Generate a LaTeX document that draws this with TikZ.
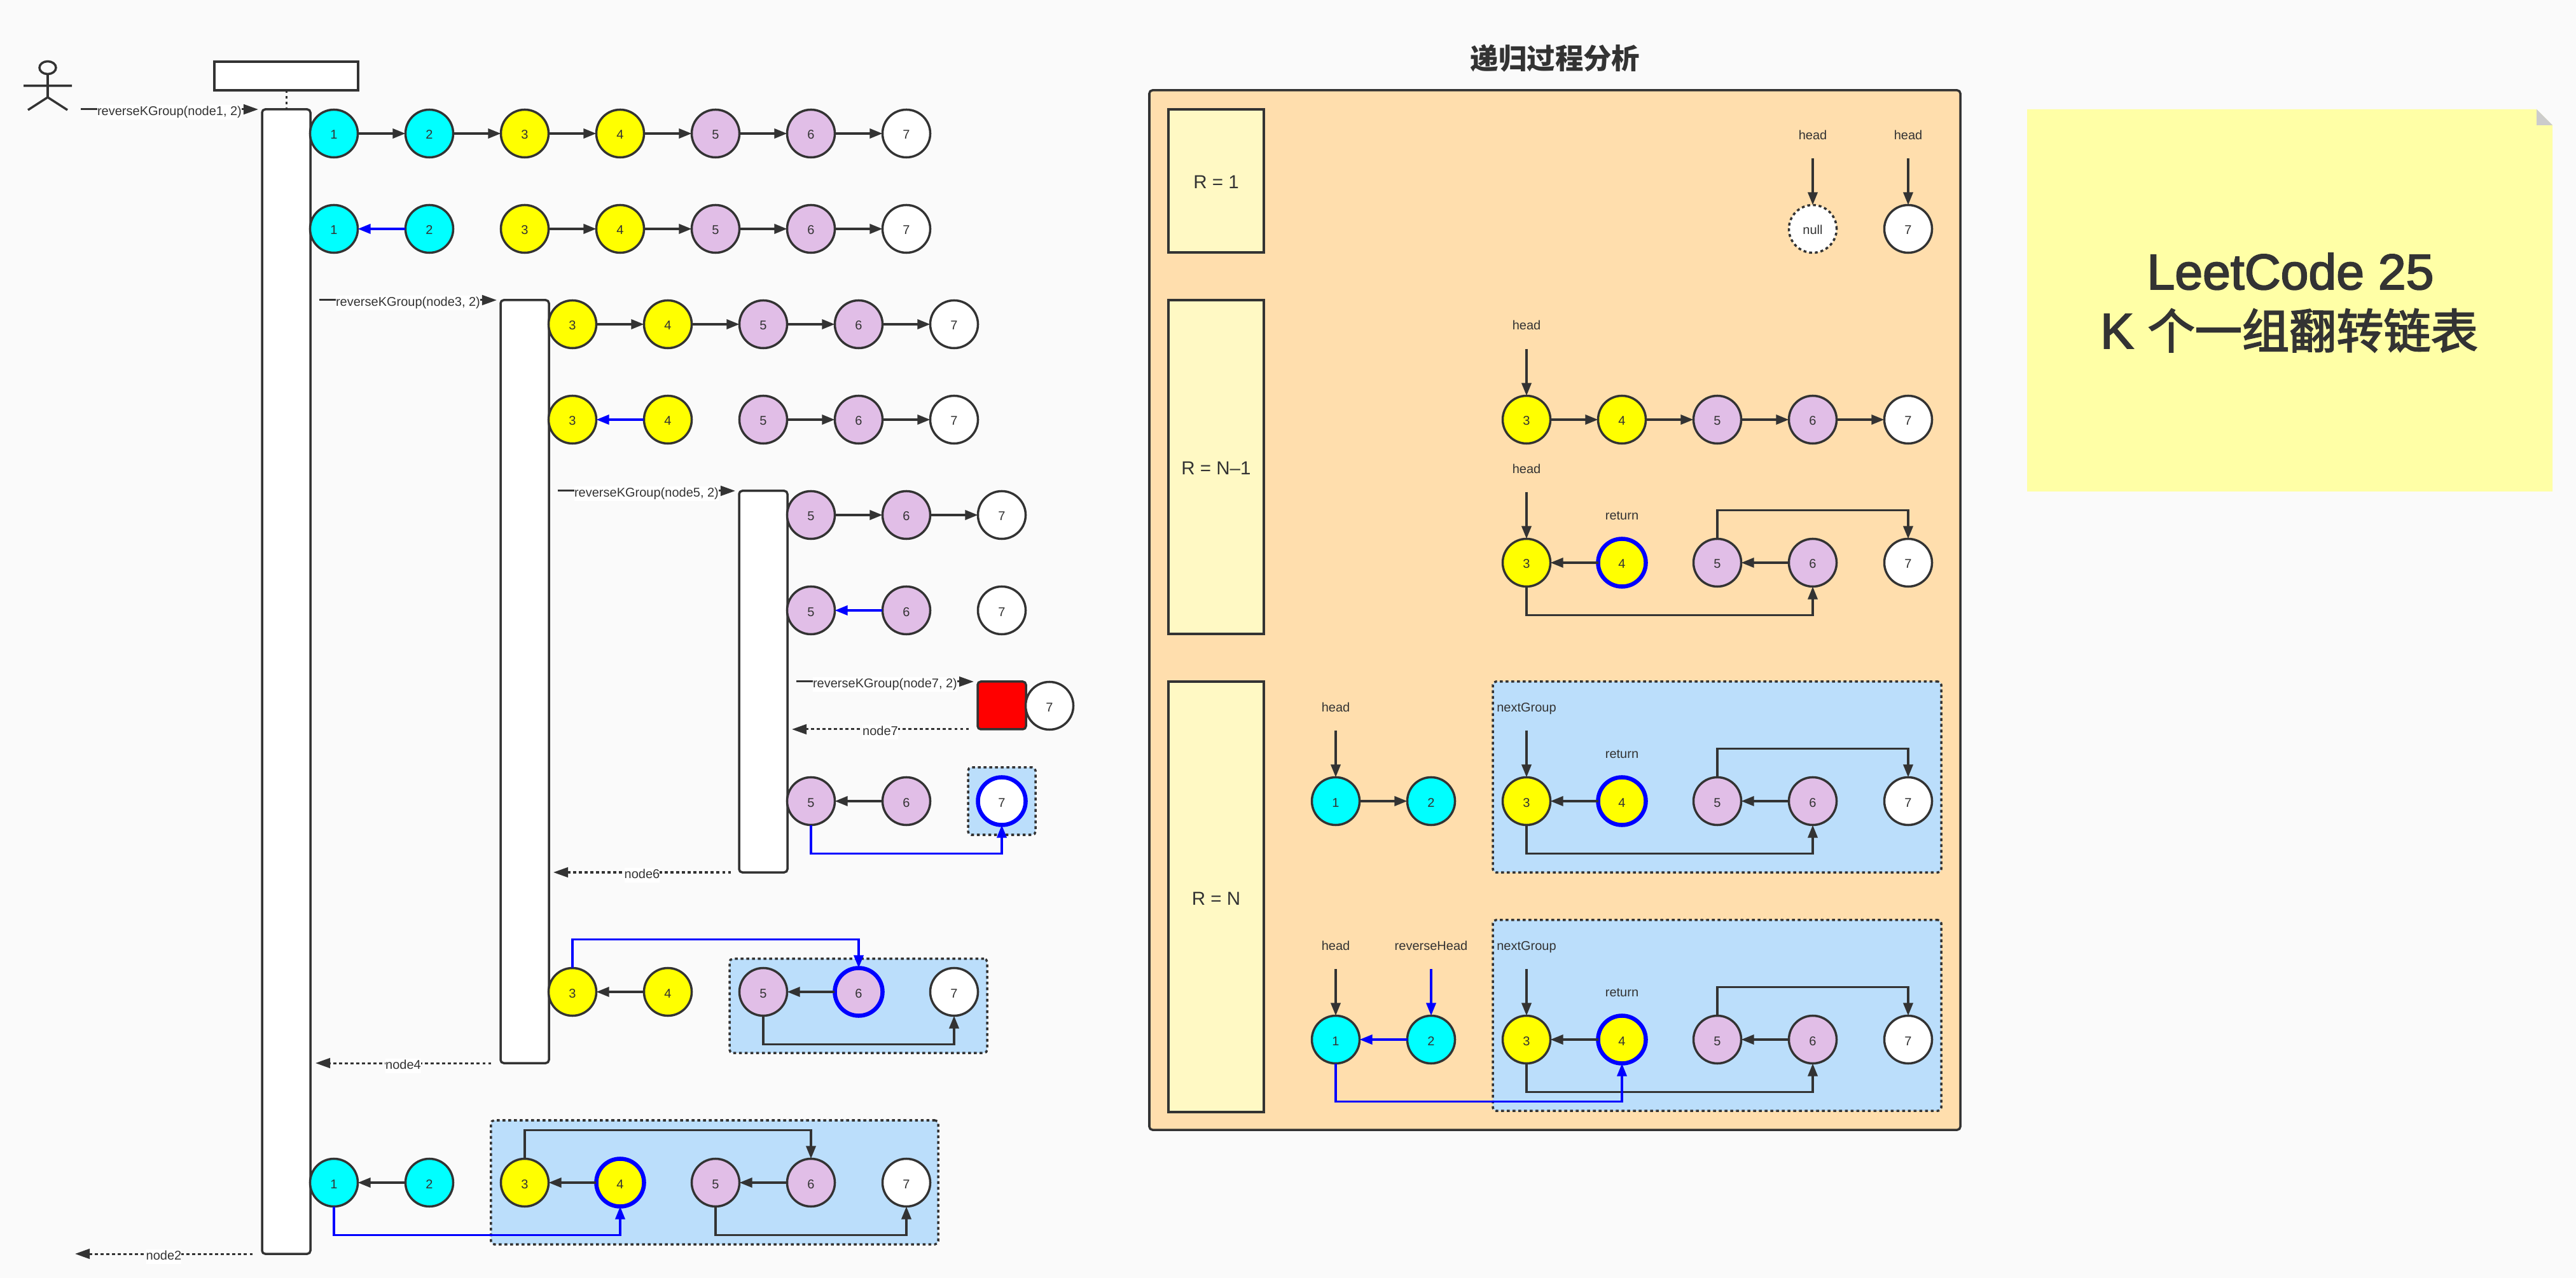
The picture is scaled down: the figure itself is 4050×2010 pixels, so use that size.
\documentclass[tikz,border=0pt]{standalone}
\usepackage{fontspec}
\setmainfont{Liberation Sans}
\newfontfamily\cjk{Noto Sans CJK SC}
\newfontface\notelatin[FakeBold=2.5]{Liberation Sans}
\newfontface\notecjk[FakeBold=2.5]{Noto Sans CJK SC}
\usetikzlibrary{arrows.meta,shapes.geometric}
\definecolor{ink}{HTML}{333333}
\definecolor{pagebg}{HTML}{FAFAFA}
\definecolor{cnA}{HTML}{00FFFF}
\definecolor{cnB}{HTML}{FFFF00}
\definecolor{cnC}{HTML}{E1BEE7}
\definecolor{panelbg}{HTML}{FFDEAD}
\definecolor{groupbg}{HTML}{BBDEFB}
\definecolor{rbg}{HTML}{FFF9C4}
\definecolor{notebg}{HTML}{FFFFA6}
\definecolor{purb}{HTML}{0000FF}
\newcommand{\smallfont}{\fontsize{5.69}{7}\selectfont}
% circle node: [extra]{fill}{name}{x,y}{label}
\newcommand{\Q}[5][]{\node[cn,fill=#2,#1] (#3) at (#4) {#5};}
% box node: {style}{name}{x1}{y1}{x2}{y2}{text}
\newcommand{\Bx}[7]{%
  \pgfmathsetmacro\bw{(#5-#3)*0.01}%
  \pgfmathsetmacro\bh{(#6-#4)*0.01}%
  \pgfmathsetmacro\bx{(#3+#5)/2}%
  \pgfmathsetmacro\by{(#4+#6)/2}%
  \node[#1,minimum width=\bw cm,minimum height=\bh cm] (#2) at (\bx,\by) {#7};}
\tikzset{
  every node/.style={text=ink,font=\smallfont},
  cn/.style={circle,draw=ink,line width=0.035cm,minimum size=0.75cm,inner sep=0pt,outer sep=0pt,text height=0.18cm,text depth=0cm},
  hi/.style={draw=purb,line width=0.065cm},
  nullnode/.style={dash pattern=on 0.045cm off 0.045cm},
  boxbase/.style={rectangle,draw=ink,line width=0.035cm,inner sep=0pt,outer sep=0pt},
  life/.style={boxbase,fill=white,rounded corners=0.05cm},
  group/.style={boxbase,fill=groupbg,rounded corners=0.05cm,dash pattern=on 0.045cm off 0.045cm},
  rbox/.style={boxbase,fill=rbg,font=\fontsize{8.4}{10}\selectfont,text height=0.25cm,text depth=0cm},
  panel/.style={boxbase,fill=panelbg,rounded corners=0.05cm},
  lk/.style={draw=ink,line width=0.035cm,-{Triangle[length=0.2cm,width=0.15cm]}},
  bl/.style={draw=purb,line width=0.035cm,-{Triangle[length=0.2cm,width=0.15cm,fill=purb]}},
  msg/.style={draw=ink,line width=0.03cm,-{Triangle[length=0.23cm,width=0.155cm]}},
  ret/.style={msg,dash pattern=on 0.045cm off 0.045cm},
  msglabel/.style={fill=white,inner xsep=0pt,inner ysep=0pt,text height=0.165cm,text depth=0.06cm,yshift=-0.045cm},
  tag/.style={inner sep=0pt,text height=0.15cm,text depth=0.05cm,yshift=-0.025cm},
  notetext/.style={inner sep=0pt,anchor=base},
}
\begin{document}
\begin{tikzpicture}[x=0.01cm,y=-0.01cm,line join=miter]
\useasboundingbox (0,0) rectangle (4050,2010);
\fill[pagebg] (0,0) rectangle (4050,2010);

% actor
\draw[ink,line width=0.035cm] (75,106.5) ellipse [x radius=13,y radius=10];
\draw[ink,line width=0.035cm] (75,116) -- (75,153) (37,135) -- (113,135) (44,173) -- (75,153) -- (106,173);

% lifelines
\Bx{life,rounded corners=0pt}{top}{337}{97}{563}{142}{}
\Bx{life}{l1}{412}{172}{488}{1972}{}
\Bx{life}{l2}{787}{472}{863}{1672}{}
\Bx{life}{l3}{1162}{772}{1238}{1372}{}
\draw[ink,line width=0.03cm,dash pattern=on 0.045cm off 0.045cm] (top.south) -- (l1.north);

% messages
\coordinate (m1a) at (127,172); \coordinate (m1b) at (406,172);
\draw[msg] (m1a) -- node[msglabel] {reverseKGroup(node1, 2)} (m1b);
\coordinate (m2a) at (502,472); \coordinate (m2b) at (781,472);
\draw[msg] (m2a) -- node[msglabel] {reverseKGroup(node3, 2)} (m2b);
\coordinate (m3a) at (877,772); \coordinate (m3b) at (1156,772);
\draw[msg] (m3a) -- node[msglabel] {reverseKGroup(node5, 2)} (m3b);
\coordinate (m4a) at (1252,1072); \coordinate (m4b) at (1531,1072);
\draw[msg] (m4a) -- node[msglabel] {reverseKGroup(node7, 2)} (m4b);
\coordinate (r7a) at (1523,1147); \coordinate (r7b) at (1245,1147);
\draw[ret] (r7a) -- node[msglabel] {node7} (r7b);
\coordinate (r6a) at (1149,1372); \coordinate (r6b) at (870,1372);
\draw[ret] (r6a) -- node[msglabel] {node6} (r6b);
\coordinate (r4a) at (772,1672); \coordinate (r4b) at (496,1672);
\draw[ret] (r4a) -- node[msglabel] {node4} (r4b);
\coordinate (r2a) at (397,1972); \coordinate (r2b) at (118,1972);
\draw[ret] (r2a) -- node[msglabel] {node2} (r2b);

% row y=210
\Q{cnA}{a1}{525,210}{1}\Q{cnA}{a2}{675,210}{2}\Q{cnB}{a3}{825,210}{3}\Q{cnB}{a4}{975,210}{4}
\Q{cnC}{a5}{1125,210}{5}\Q{cnC}{a6}{1275,210}{6}\Q{white}{a7}{1425,210}{7}
\foreach \p/\q in {a1/a2,a2/a3,a3/a4,a4/a5,a5/a6,a6/a7}{\draw[lk] (\p) -- (\q);}
% row y=360
\Q{cnA}{b1}{525,360}{1}\Q{cnA}{b2}{675,360}{2}\Q{cnB}{b3}{825,360}{3}\Q{cnB}{b4}{975,360}{4}
\Q{cnC}{b5}{1125,360}{5}\Q{cnC}{b6}{1275,360}{6}\Q{white}{b7}{1425,360}{7}
\draw[bl] (b2) -- (b1);
\foreach \p/\q in {b3/b4,b4/b5,b5/b6,b6/b7}{\draw[lk] (\p) -- (\q);}
% row y=510
\Q{cnB}{c3}{900,510}{3}\Q{cnB}{c4}{1050,510}{4}\Q{cnC}{c5}{1200,510}{5}\Q{cnC}{c6}{1350,510}{6}\Q{white}{c7}{1500,510}{7}
\foreach \p/\q in {c3/c4,c4/c5,c5/c6,c6/c7}{\draw[lk] (\p) -- (\q);}
% row y=660
\Q{cnB}{d3}{900,660}{3}\Q{cnB}{d4}{1050,660}{4}\Q{cnC}{d5}{1200,660}{5}\Q{cnC}{d6}{1350,660}{6}\Q{white}{d7}{1500,660}{7}
\draw[bl] (d4) -- (d3);
\foreach \p/\q in {d5/d6,d6/d7}{\draw[lk] (\p) -- (\q);}
% row y=810
\Q{cnC}{e5}{1275,810}{5}\Q{cnC}{e6}{1425,810}{6}\Q{white}{e7}{1575,810}{7}
\foreach \p/\q in {e5/e6,e6/e7}{\draw[lk] (\p) -- (\q);}
% row y=960
\Q{cnC}{f5}{1275,960}{5}\Q{cnC}{f6}{1425,960}{6}\Q{white}{f7}{1575,960}{7}
\draw[bl] (f6) -- (f5);
% red box
\Bx{boxbase,fill=red,rounded corners=0.05cm}{redbox}{1537}{1072}{1613}{1147}{}
\Q{white}{g7}{1650,1110}{7}
% row y=1260
\Bx{group}{gr1}{1522}{1207}{1628}{1313}{}
\Q{cnC}{h5}{1275,1260}{5}\Q{cnC}{h6}{1425,1260}{6}\Q[hi]{white}{h7}{1575,1260}{7}
\draw[lk] (h6) -- (h5);
\draw[bl] (h5.south) -- ++(0,45) -| (h7.south);
% row y=1560
\Bx{group}{gr2}{1147}{1508}{1552}{1656}{}
\Q{cnB}{i3}{900,1560}{3}\Q{cnB}{i4}{1050,1560}{4}\Q{cnC}{i5}{1200,1560}{5}\Q[hi]{cnC}{i6}{1350,1560}{6}\Q{white}{i7}{1500,1560}{7}
\draw[lk] (i4) -- (i3);
\draw[lk] (i6) -- (i5);
\draw[bl] (i3.north) -- ++(0,-45) -| (i6.north);
\draw[lk] (i5.south) -- ++(0,45) -| (i7.south);
% row y=1860
\Bx{group}{gr3}{772}{1762}{1475}{1957}{}
\Q{cnA}{j1}{525,1860}{1}\Q{cnA}{j2}{675,1860}{2}\Q{cnB}{j3}{825,1860}{3}\Q[hi]{cnB}{j4}{975,1860}{4}
\Q{cnC}{j5}{1125,1860}{5}\Q{cnC}{j6}{1275,1860}{6}\Q{white}{j7}{1425,1860}{7}
\draw[lk] (j2) -- (j1);
\draw[lk] (j4) -- (j3);
\draw[lk] (j6) -- (j5);
\draw[lk] (j3.north) -- ++(0,-45) -| (j6.north);
\draw[bl] (j1.south) -- ++(0,45) -| (j4.south);
\draw[lk] (j5.south) -- ++(0,45) -| (j7.south);

% right panel
\node[font={\cjk\bfseries\fontsize{12.65}{15}\selectfont},inner sep=0pt] (title) at (2445,92) {递归过程分析};
\Bx{panel}{panel}{1807}{142}{3082}{1777}{}
\Bx{rbox}{r1}{1837}{172}{1987}{397}{R = 1}
\Bx{rbox}{r2}{1837}{472}{1987}{997}{R = N–1}
\Bx{rbox}{r3}{1837}{1072}{1987}{1749}{R = N}

% R = 1
\Q[nullnode]{white}{p0}{2850,360}{null}\Q{white}{p7}{3000,360}{7}
\node[tag] (th0) at (2850,212) {head}; \node[tag] (th7) at (3000,212) {head};
\coordinate (ah0) at (2850,249); \coordinate (ah7) at (3000,249);
\draw[lk] (ah0) -- (p0.north); \draw[lk] (ah7) -- (p7.north);

% R = N-1, first row
\Q{cnB}{q3}{2400,660}{3}\Q{cnB}{q4}{2550,660}{4}\Q{cnC}{q5}{2700,660}{5}\Q{cnC}{q6}{2850,660}{6}\Q{white}{q7}{3000,660}{7}
\foreach \p/\q in {q3/q4,q4/q5,q5/q6,q6/q7}{\draw[lk] (\p) -- (\q);}
\node[tag] (tq) at (2400,511) {head}; \coordinate (aq) at (2400,549);
\draw[lk] (aq) -- (q3.north);

% R = N-1, second row
\Q{cnB}{s3}{2400,885}{3}\Q[hi]{cnB}{s4}{2550,885}{4}\Q{cnC}{s5}{2700,885}{5}\Q{cnC}{s6}{2850,885}{6}\Q{white}{s7}{3000,885}{7}
\draw[lk] (s4) -- (s3); \draw[lk] (s6) -- (s5);
\draw[lk] (s5.north) -- ++(0,-45) -| (s7.north);
\draw[lk] (s3.south) -- ++(0,45) -| (s6.south);
\node[tag] (ts) at (2400,737) {head}; \coordinate (as) at (2400,774);
\draw[lk] (as) -- (s3.north);
\node[tag] (tr2) at (2550,810) {return};

% R = N, first row
\Q{cnA}{u1}{2100,1260}{1}\Q{cnA}{u2}{2250,1260}{2}
\draw[lk] (u1) -- (u2);
\node[tag] (tu) at (2100,1112) {head}; \coordinate (au) at (2100,1149);
\draw[lk] (au) -- (u1.north);
\Bx{group}{gr4}{2347}{1072}{3052}{1372}{}
\Q{cnB}{v3}{2400,1260}{3}\Q[hi]{cnB}{v4}{2550,1260}{4}\Q{cnC}{v5}{2700,1260}{5}\Q{cnC}{v6}{2850,1260}{6}\Q{white}{v7}{3000,1260}{7}
\draw[lk] (v4) -- (v3); \draw[lk] (v6) -- (v5);
\draw[lk] (v5.north) -- ++(0,-45) -| (v7.north);
\draw[lk] (v3.south) -- ++(0,45) -| (v6.south);
\node[tag] (tv) at (2400,1112) {nextGroup}; \coordinate (av) at (2400,1149);
\draw[lk] (av) -- (v3.north);
\node[tag] (tr3) at (2550,1185) {return};

% R = N, second row
\Bx{group}{gr5}{2347}{1447}{3052}{1747}{}
\Q{cnA}{w1}{2100,1635}{1}\Q{cnA}{w2}{2250,1635}{2}
\Q{cnB}{x3}{2400,1635}{3}\Q[hi]{cnB}{x4}{2550,1635}{4}\Q{cnC}{x5}{2700,1635}{5}\Q{cnC}{x6}{2850,1635}{6}\Q{white}{x7}{3000,1635}{7}
\draw[bl] (w2) -- (w1);
\draw[lk] (x4) -- (x3); \draw[lk] (x6) -- (x5);
\draw[lk] (x5.north) -- ++(0,-45) -| (x7.north);
\draw[lk] (x3.south) -- ++(0,45) -| (x6.south);
\draw[bl] (w1.south) -- ++(0,60) -| (x4.south);
\node[tag] (tw1) at (2100,1487) {head}; \coordinate (aw1) at (2100,1524);
\draw[lk] (aw1) -- (w1.north);
\node[tag] (tw2) at (2250,1487) {reverseHead}; \coordinate (aw2) at (2250,1524);
\draw[bl] (aw2) -- (w2.north);
\node[tag] (tx) at (2400,1487) {nextGroup}; \coordinate (ax) at (2400,1524);
\draw[lk] (ax) -- (x3.north);
\node[tag] (tr4) at (2550,1560) {return};

% sticky note
\fill[notebg] (3187,172) -- (3988,172) -- (4013,197) -- (4013,773) -- (3187,773) -- cycle;
\fill[black!20] (3988,172) -- (3988,197) -- (4013,197) -- cycle;
\node[notetext,font=\notelatin\fontsize{22.4}{26}\selectfont] (note1) at (3601,455) {LeetCode 25};
\node[notetext,font=\notelatin\fontsize{22.4}{26}\selectfont] (note2) at (3599,548) {K {\notecjk\fontsize{21.1}{26}\selectfont 个一组翻转链表}};
\end{tikzpicture}
\end{document}
